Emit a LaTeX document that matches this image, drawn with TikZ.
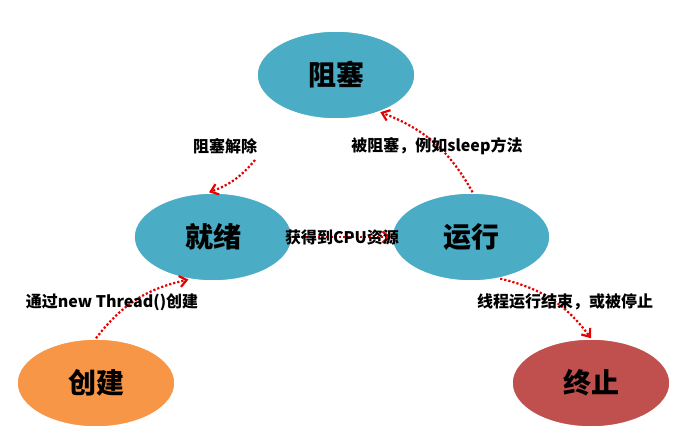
\documentclass[tikz,border=0pt]{standalone}
\usepackage{fontspec}
\setmainfont{Noto Sans CJK SC}
\usetikzlibrary{arrows.meta,shapes.geometric}
\begin{document}
\begin{tikzpicture}[x=1pt,y=-1pt,
		state/.style={ellipse,draw=white,line width=1.5pt,minimum width=158pt,minimum height=88pt,inner sep=0pt,font=\bfseries\fontsize{28}{30}\selectfont},
		flow/.style={draw={rgb,255:red,230;green,0;blue,0},line width=2.2pt,dotted,-{Straight Barb[length=7pt,width=11pt]}},
		note/.style={font=\bfseries\fontsize{16}{18}\selectfont}
		]
		\useasboundingbox (0,0) rectangle (678,444);
		\node (block) [state,fill={rgb,255:red,75;green,172;blue,198}] at (336,75) {阻塞};
		\node (ready) [state,fill={rgb,255:red,75;green,172;blue,198}] at (213,237) {就绪};
		\node (run) [state,fill={rgb,255:red,75;green,172;blue,198}] at (471,237) {运行};
		\node (new) [state,fill={rgb,255:red,247;green,150;blue,70}] at (96,383) {创建};
		\node (dead) [state,fill={rgb,255:red,192;green,80;blue,77}] at (591,383) {终止};
		\coordinate (c1) at (255,160);
		\draw[flow] (c1) to[bend left=15] (ready.95);
		\draw[flow] (run.88) to[bend right=20] (block.-40);
		\draw[flow] (ready.east) -- (run.west);
		\draw[flow] (new.north) to[bend left=20] (ready.-120);
		\draw[flow] (run.-55) to[bend left=20] (dead.north);
		\node (n1) [note] at (225,146) {阻塞解除};
		\node (n2) [note] at (437,146) {被阻塞，例如sleep方法};
		\node (n3) [note] at (342,237) {获得到CPU资源};
		\node (n4) [note] at (112,302) {通过new Thread()创建};
		\node (n5) [note] at (565,302) {线程运行结束，或被停止};
	\end{tikzpicture}
\end{document}
